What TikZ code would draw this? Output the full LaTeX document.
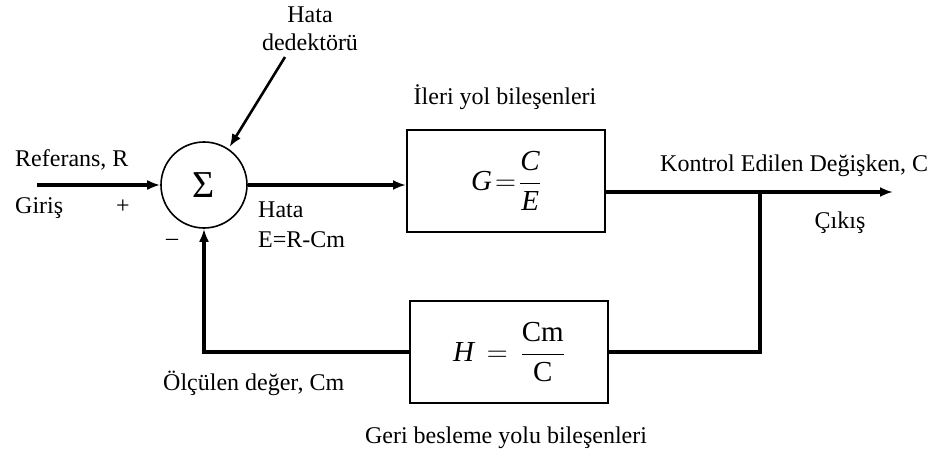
\RequirePackage{fix-cm}
\documentclass[tikz,border=0pt]{standalone}
\usepackage{amsmath}
\usepackage{fontspec}
\setmainfont{Liberation Serif}
\usetikzlibrary{arrows.meta}

\begin{document}
\begin{tikzpicture}[
    x=1pt, y=-1pt,
    font=\fontsize{24}{28}\selectfont,
    sig/.style={-{Latex[length=13pt,width=10pt]}, line width=3.4pt},
    wire/.style={line width=3.4pt},
    block/.style={draw, line width=2pt, minimum width=198pt, minimum height=102pt, inner sep=0pt,
                  font=\fontsize{29}{33}\selectfont},
    lbl/.style={inner sep=0pt, anchor=base west}
]
    \useasboundingbox (0,0) rectangle (939,457);

    % Summing junction and the two blocks
    \node[draw, circle, line width=1.6pt, minimum size=86pt, inner sep=0pt,
          font=\fontsize{38}{42}\selectfont] (sum) at (204,185) {Σ};
    \node[block] (fwd) at (506,181) {$\mathit{G}\!=\!\dfrac{\mathit{C}}{\mathit{E}}$};
    \node[block] (fb) at (509,352) {$\mathit{H}\,=\,\dfrac{\mathrm{Cm}}{\mathrm{C}}$};

    % Free ends of the connectors
    \coordinate (in) at (37,185);
    \coordinate (branch) at (760,192);
    \coordinate (out) at (893,192);
    \coordinate (dettail) at (285,57);

    % Forward path
    \draw[sig] (in) -- (sum.west);
    \draw[sig] (sum.east) -- (fwd.west |- sum);
    \draw[wire] (fwd.east |- branch) -- (branch);
    \draw[sig] (branch) -- (out);

    % Feedback path
    \draw[wire] (branch) |- (fb.east);
    \draw[sig] (fb.west) -| (sum.south);

    % Error detector pointer
    \draw[-{Latex[length=13pt,width=10pt]}, line width=2.6pt, shorten >=2pt] (dettail) -- (sum.56);

    % Labels
    \node[align=center, inner sep=0pt] (det) at (310,29) {Hata\\dedektörü};
    \node[lbl] (ref) at (15,167) {Referans, R};
    \node[lbl] (giris) at (15,213) {Giriş};
    \node[inner sep=0pt] (plus) at (123,207) {+};
    \node[inner sep=0pt] (minus) at (172,242) {–};
    \node[lbl] (err) at (258,218) {Hata};
    \node[lbl] (erreq) at (258,247) {E=R-Cm};
    \node[lbl] (meas) at (163,390) {Ölçülen değer, Cm};
    \node[inner sep=0pt, anchor=base] (fwdlbl) at (505,105) {İleri yol bileşenleri};
    \node[inner sep=0pt, anchor=base] (fblbl) at (506,443) {Geri besleme yolu bileşenleri};
    \node[lbl] (ctrl) at (660,172) {Kontrol Edilen Değişken, C};
    \node[inner sep=0pt, anchor=base] (cikis) at (840,228) {Çıkış};
\end{tikzpicture}
\end{document}
